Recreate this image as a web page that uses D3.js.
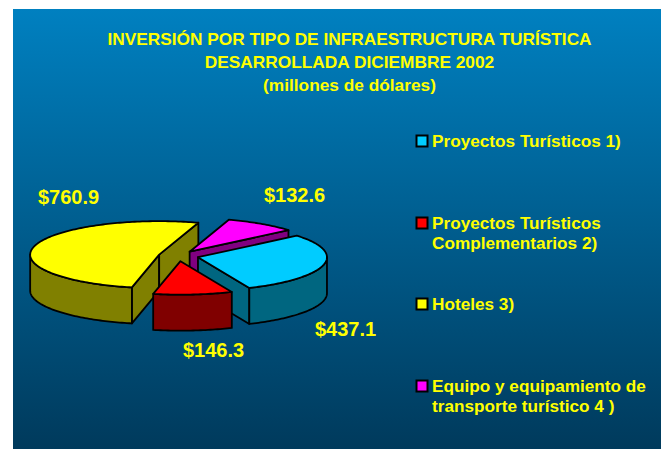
<!DOCTYPE html>
<html>
<head>
<meta charset="utf-8">
<script src="https://cdn.jsdelivr.net/npm/d3@7/dist/d3.min.js"></script>
<style>
html,body{margin:0;padding:0;background:#fff;overflow:hidden}
svg{display:block}
text{font-family:"Liberation Sans",Arial,sans-serif;font-weight:bold;fill:#ffff00}
</style>
</head>
<body>
<svg id="c" width="661" height="449"></svg>
<script>
const categories = ["Proyectos Turísticos 1)", "Proyectos Turísticos|Complementarios 2)", "Hoteles 3)", "Equipo y equipamiento de|transporte turístico 4 )"];
const values = [437.1, 146.3, 760.9, 132.6];
const valueLabels = ["$437.1", "$146.3", "$760.9", "$132.6"];
const topColors = ["#00ccff", "#ff0000", "#ffff00", "#ff00ff"];
const sideColors = ["#006680", "#800000", "#808000", "#800080"];
const titleLines = ["INVERSIÓN POR TIPO DE INFRAESTRUCTURA TURÍSTICA", "DESARROLLADA DICIEMBRE 2002", "(millones de dólares)"];

const svg = d3.select("#c");
const W = 661, H = 449;
const defs = svg.append("defs");
const g = defs.append("linearGradient").attr("id","bg").attr("x1",0).attr("y1",0).attr("x2",0).attr("y2",1);
g.append("stop").attr("offset","0%").attr("stop-color","#0080c0");
g.append("stop").attr("offset","100%").attr("stop-color","#003a5c");
svg.append("rect").attr("x",13).attr("y",9).attr("width",W-13).attr("height",H-9).attr("fill","url(#bg)");

svg.append("g").selectAll("text").data(titleLines).join("text")
  .attr("x",349.5).attr("y",(d,i)=>45+i*23).attr("text-anchor","middle")
  .attr("font-size",17.3).text(d=>d);

// pie geometry
const cx = 178.5, cy = 256, rx = 129, ry = 33.5, depth = 36, explode = 20/129;
const start = 50*Math.PI/180;
const arcs = d3.pie().value(d=>d).sort(null).startAngle(start).endAngle(start+2*Math.PI)(values);
const line = d3.line();
const TAU = 2*Math.PI;

function sliceGeom(a){
  const mid = (a.startAngle+a.endAngle)/2;
  const ox = cx + explode*rx*Math.sin(mid), oy = cy - explode*ry*Math.cos(mid);
  const P = (t,dz=0)=>[ox+rx*Math.sin(t), oy-ry*Math.cos(t)+dz];
  return {ox,oy,P};
}
function sample(t0,t1){
  const n = Math.max(2,Math.ceil((t1-t0)/0.02));
  return d3.range(n+1).map(i=>t0+(t1-t0)*i/n);
}
const order = [2,3,0,1];
const pieG = svg.append("g").attr("stroke","#000").attr("stroke-width",1.8).attr("stroke-linejoin","round");
order.forEach(i=>{
  const a = arcs[i], {ox,oy,P} = sliceGeom(a);
  const fill = sideColors[i];
  const quad = t=>{
    const p=P(t);
    return line([[ox,oy],p,[p[0],p[1]+depth],[ox,oy+depth]])+"Z";
  };
  // cut faces that face the viewer
  [a.startAngle,a.endAngle].forEach((t,k)=>{
    const out = k===0 ? -1 : 1;
    if (out*Math.sin(t) > 0) pieG.append("path").attr("d",quad(t)).attr("fill",fill);
  });
  // outer wall: front half only
  const segs = [[Math.PI/2,3*Math.PI/2],[Math.PI/2+TAU,3*Math.PI/2+TAU]];
  segs.forEach(([s,e])=>{
    const t0=Math.max(s,a.startAngle), t1=Math.min(e,a.endAngle);
    if(t1>t0){
      const ts=sample(t0,t1);
      const pts=ts.map(t=>P(t)).concat(ts.slice().reverse().map(t=>P(t,depth)));
      pieG.append("path").attr("d",line(pts)+"Z").attr("fill",fill);
    }
  });
  // top
  const pts=[[ox,oy]].concat(sample(a.startAngle,a.endAngle).map(t=>P(t)));
  pieG.append("path").attr("d",line(pts)+"Z").attr("fill",topColors[i]);
});

// value labels
const labelX = [315,183,38,264], labelY = [336,357,204,201.5];
svg.append("g").selectAll("text").data(valueLabels).join("text")
  .attr("x",(d,i)=>labelX[i]).attr("y",(d,i)=>labelY[i]).attr("font-size",20).text(d=>d);

// legend
const legY = [135,217,298,380];
const leg = svg.append("g").selectAll("g").data(categories).join("g");
leg.append("rect").attr("x",416.5).attr("y",(d,i)=>legY[i]+.5).attr("width",11).attr("height",11)
  .attr("fill",(d,i)=>topColors[i]).attr("stroke","#000").attr("stroke-width",2);
leg.each(function(d,i){
  d3.select(this).selectAll("text").data(d.split("|")).join("text")
    .attr("x",432).attr("y",(s,k)=>legY[i]+12+k*20).attr("font-size",17.2).text(s=>s);
});
</script>
</body>
</html>
